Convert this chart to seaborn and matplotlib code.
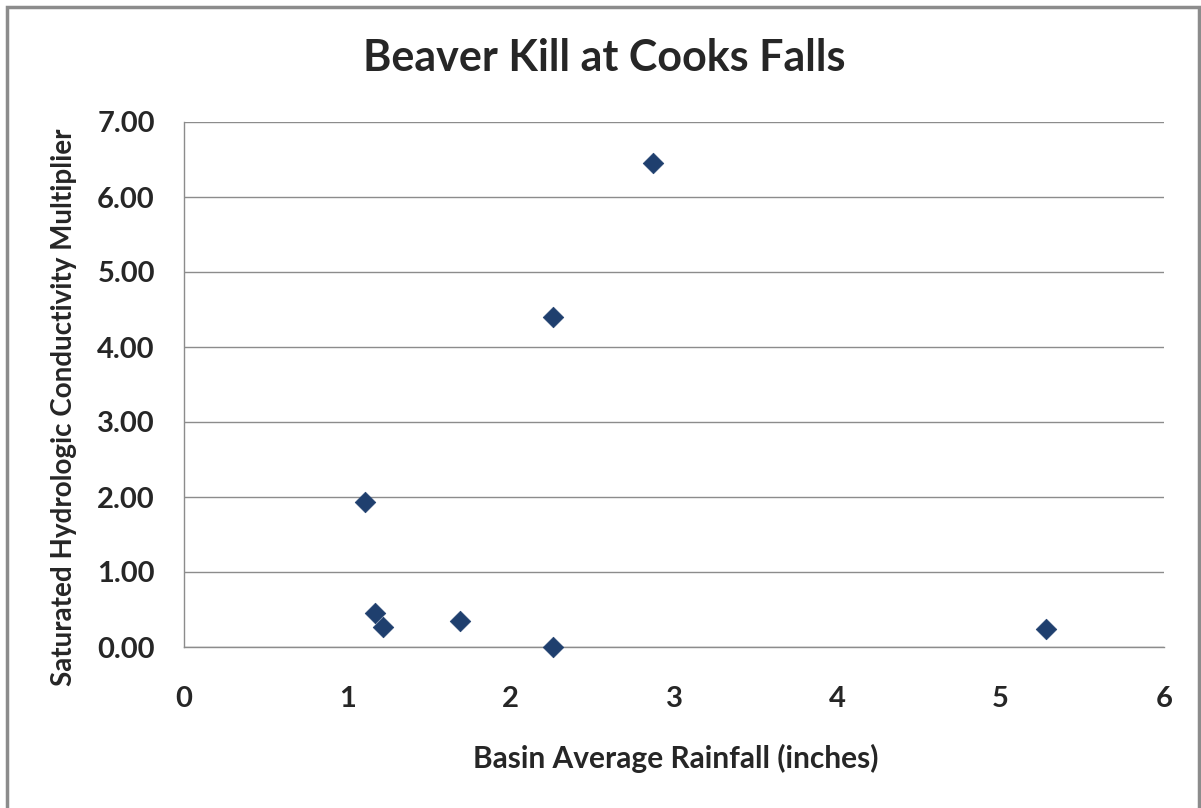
import numpy as np
import pandas as pd
import matplotlib
matplotlib.use("Agg")
import matplotlib.pyplot as plt
import seaborn as sns
from matplotlib.patches import Rectangle

# values
rainfall = [1.11, 1.17, 1.22, 1.69, 2.26, 2.26, 2.87, 5.28]
multiplier = [1.93, 0.45, 0.27, 0.35, 0.00, 4.40, 6.45, 0.24]
x_ticks = [0, 1, 2, 3, 4, 5, 6]
y_ticks = [0, 1, 2, 3, 4, 5, 6, 7]

df = pd.DataFrame({"rain": rainfall, "mult": multiplier})

sns.set_style("white")
plt.rcParams["font.family"] = ["Lato", "DejaVu Sans"]

fig = plt.figure(figsize=(12.01, 8.08), dpi=100)
ax = fig.add_axes([184 / 1201, 1 - 647 / 808, (1164 - 184) / 1201, (647 - 122) / 808])

sns.scatterplot(data=df, x="rain", y="mult", marker="D", s=110,
                color="#1F3F6E", edgecolor="#1F3F6E", linewidth=0.5, ax=ax,
                zorder=3, clip_on=False)

ax.set_xlim(0, 6)
ax.set_ylim(0, 7)
ax.set_xticks(x_ticks)
ax.set_yticks(y_ticks)
ax.set_xticklabels([str(t) for t in x_ticks])
ax.set_yticklabels([f"{t:.2f}" for t in y_ticks])
ax.tick_params(axis="both", length=0, labelsize=21)
ax.tick_params(axis="y", pad=21)
ax.tick_params(axis="x", pad=28)
for lab in ax.get_xticklabels() + ax.get_yticklabels():
    lab.set_fontweight("bold")
ax.yaxis.grid(True, color="#8c8c8c", linewidth=1)
ax.set_axisbelow(True)
for side in ["top", "right"]:
    ax.spines[side].set_visible(False)
for side in ["left", "bottom"]:
    ax.spines[side].set_color("#8c8c8c")
    ax.spines[side].set_linewidth(1)

ax.set_xlabel("Basin Average Rainfall (inches)", fontsize=21.5, fontweight="bold", va="center")
ax.set_ylabel("Saturated Hydrologic Conductivity Multiplier", fontsize=20, fontweight="bold", va="center")
ax.xaxis.set_label_coords(0.5015, (647 - 758) / 525)
ax.yaxis.set_label_coords((64 - 184) / 980, (647 - 407) / 525)

fig.text(604 / 1201, 1 - 58 / 808, "Beaver Kill at Cooks Falls", fontsize=31,
         fontweight="bold", ha="center", va="center")

fig.patches.append(Rectangle((7 / 1201, -0.01), 1192 / 1201, 1 - 7 / 808 + 0.01,
                             transform=fig.transFigure, fill=False,
                             edgecolor="#8c8c8c", linewidth=2.5))

fig.savefig("out.png", dpi=100)
